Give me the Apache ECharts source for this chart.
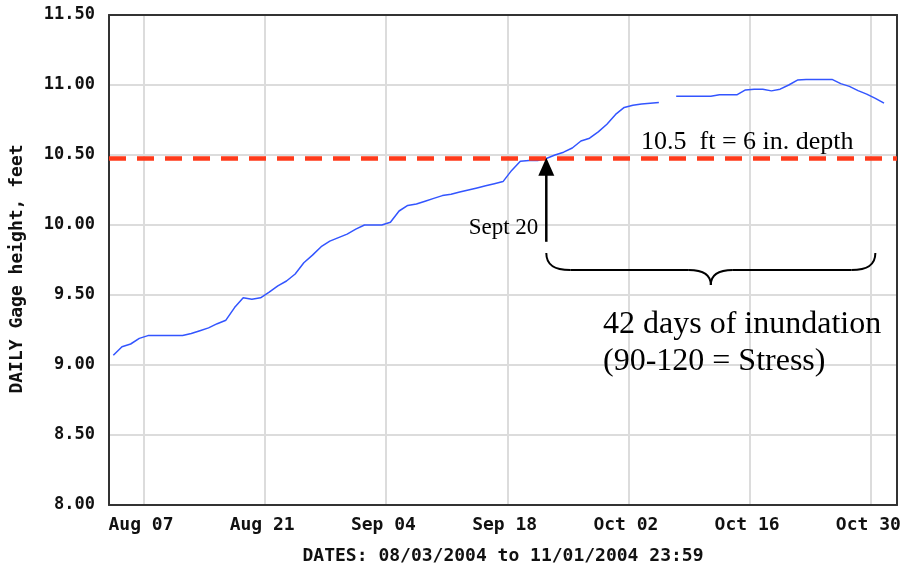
<!DOCTYPE html>
<html>
<head>
<meta charset="utf-8">
<script src="https://cdn.jsdelivr.net/npm/echarts@6/dist/echarts.min.js"></script>
</head>
<body style="margin:0; background:#fff">
<div id="container" style="width:906px; height:570px"></div>
<script type="text/javascript">
    // daily gage height, feet (Aug 03 .. Oct 31 2004), null = missing
    var augHeights = [9.07, 9.13, 9.15, 9.19, 9.21, 9.21, 9.21, 9.21, 9.21, 9.225,
        9.245, 9.265, 9.295, 9.32, 9.41, 9.48, 9.47, 9.48, 9.52, 9.565,
        9.60, 9.65, 9.73, 9.785, 9.845, 9.885, 9.91, 9.935, 9.97];
    var sepHeights = [10.00, 10.00, 10.00, 10.02, 10.10, 10.14, 10.15, 10.17, 10.19, 10.21,
        10.22, 10.235, 10.25, 10.265, 10.28, 10.295, 10.31, 10.39, 10.455, 10.46,
        10.46, 10.475, 10.50, 10.52, 10.55, 10.60, 10.62, 10.665, 10.72, 10.79];
    var octHeights = [10.84, 10.855, 10.865, 10.87, 10.875, null, 10.92, 10.92, 10.92, 10.92,
        10.92, 10.93, 10.93, 10.93, 10.965, 10.97, 10.97, 10.958, 10.97, 11.00,
        11.035, 11.04, 11.04, 11.04, 11.04, 11.01, 10.99, 10.96, 10.935, 10.905, 10.87];
    var heights = augHeights.concat(sepHeights, octHeights);

    var depthLine = 10.48;      // 10.5 ft = 6 in. depth
    var yTicks = [8, 8.5, 9, 9.5, 10, 10.5, 11, 11.5];
    var monthNames = ['Jan', 'Feb', 'Mar', 'Apr', 'May', 'Jun', 'Jul', 'Aug', 'Sep', 'Oct', 'Nov', 'Dec'];

    // one category per day, 08/03/2004 .. 11/01/2004
    var dates = [];
    for (var i = 0; i < 91; i++) {
        var d = new Date(2004, 7, 3 + i);
        dates.push(monthNames[d.getMonth()] + ' ' + (d.getDate() < 10 ? '0' : '') + d.getDate());
    }
    var firstLabel = 4;   // Aug 07
    var labelStep = 14;
    var tickStep = 7;

    // annotation anchors (category index, value)
    var arrowDay = 50;
    var arrowBase = 9.88;
    var braceStart = 50, braceEnd = 88, braceTop = 9.80;

    var monoFont = 'DejaVu Sans Mono';
    var serif = 'Liberation Serif';
    var frame = {show: true, lineStyle: {color: '#333', width: 2}};

    function isLabel(index) { return index >= firstLabel && (index - firstLabel) % labelStep === 0; }
    function isTick(index) { return index >= firstLabel && (index - firstLabel) % tickStep === 0; }

    var myChart = echarts.init(document.getElementById('container'));
    var option = {
        animation: false,
        backgroundColor: '#fff',
        grid: {left: 109, right: 9, top: 15, bottom: 63},
        xAxis: [{
            type: 'category',
            data: dates,
            boundaryGap: true,
            name: 'DATES: 08/03/2004 to 11/01/2004 23:59',
            nameLocation: 'middle',
            nameGap: 42,
            nameTextStyle: {fontFamily: monoFont, fontWeight: 'bold', fontSize: 18, color: '#111'},
            axisLine: frame,
            axisTick: {interval: function (i) { return isTick(i); }, inside: true, length: 4, lineStyle: {color: '#333', width: 2}},
            axisLabel: {
                interval: function (i) { return isLabel(i); },
                margin: 11,
                padding: [0, 14, 0, 0],
                fontFamily: monoFont, fontWeight: 'bold', fontSize: 18, color: '#111'
            },
            splitLine: {show: true, interval: function (i) { return isLabel(i); }, lineStyle: {color: '#dcdcdc', width: 2}}
        }, {
            type: 'category',
            data: dates,
            position: 'top',
            boundaryGap: true,
            axisLine: frame,
            axisTick: {interval: function (i) { return isTick(i); }, inside: true, length: 4, lineStyle: {color: '#333', width: 2}},
            axisLabel: {show: false},
            splitLine: {show: false}
        }],
        yAxis: [{
            type: 'value',
            min: yTicks[0],
            max: yTicks[yTicks.length - 1],
            interval: 0.5,
            name: 'DAILY Gage height, feet',
            nameLocation: 'middle',
            nameGap: 83,
            nameTextStyle: {fontFamily: monoFont, fontWeight: 'bold', fontSize: 18, color: '#111', padding: [0, 18, 0, 0]},
            axisLine: frame,
            axisTick: {show: false},
            axisLabel: {
                margin: 14,
                formatter: function (v) { return v.toFixed(2); },
                fontFamily: monoFont, fontWeight: 'bold', fontSize: 17, color: '#111'
            },
            splitLine: {lineStyle: {color: '#dcdcdc', width: 2}}
        }, {
            type: 'value',
            position: 'right',
            min: yTicks[0],
            max: yTicks[yTicks.length - 1],
            interval: 0.5,
            axisLine: frame,
            axisTick: {show: false},
            axisLabel: {show: false},
            splitLine: {show: false}
        }],
        series: [{
            name: 'Gage height',
            type: 'line',
            data: heights,
            showSymbol: false,
            connectNulls: false,
            lineStyle: {color: '#3355ff', width: 1.5},
            markLine: {
                silent: true,
                symbol: 'none',
                label: {show: false},
                lineStyle: {color: '#ff3a1a', width: 4.5, type: [17, 11]},
                data: [{yAxis: depthLine}]
            }
        }]
    };
    myChart.setOption(option);

    // annotations placed from data coordinates
    var tip = myChart.convertToPixel({gridIndex: 0}, [arrowDay, depthLine]);
    var base = myChart.convertToPixel({gridIndex: 0}, [arrowDay, arrowBase]);
    var b0 = myChart.convertToPixel({gridIndex: 0}, [braceStart, braceTop]);
    var b1 = myChart.convertToPixel({gridIndex: 0}, [braceEnd, braceTop]);
    var ax = tip[0];
    var x0 = b0[0], x1 = b1[0], y0 = b0[1], xm = (x0 + x1) / 2;
    var y1 = y0 + 17, y2 = y0 + 32;
    var braceStyle = {fill: 'none', stroke: '#000', lineWidth: 2};

    function curve(ax1, ay1, c1x, c1y, c2x, c2y, ax2, ay2) {
        return {type: 'bezierCurve', z: 100, style: braceStyle,
            shape: {x1: ax1, y1: ay1, cpx1: c1x, cpy1: c1y, cpx2: c2x, cpy2: c2y, x2: ax2, y2: ay2}};
    }
    function seg(ax1, ay1, ax2, ay2) {
        return {type: 'line', z: 100, style: braceStyle, shape: {x1: ax1, y1: ay1, x2: ax2, y2: ay2}};
    }

    myChart.setOption({
        graphic: [
            {type: 'line', shape: {x1: ax, y1: base[1], x2: ax, y2: tip[1] + 14}, style: {stroke: '#000', lineWidth: 2.5}, z: 100},
            {type: 'polygon', shape: {points: [[ax, tip[1]], [ax - 8, tip[1] + 18], [ax + 8, tip[1] + 18]]}, style: {fill: '#000'}, z: 100},
            curve(x0, y0, x0, y0 + 12, x0 + 8, y1, x0 + 24, y1),
            seg(x0 + 24, y1, xm - 22, y1),
            curve(xm - 22, y1, xm - 8, y1, xm, y1 + 5, xm, y2),
            curve(xm, y2, xm, y1 + 5, xm + 8, y1, xm + 22, y1),
            seg(xm + 22, y1, x1 - 24, y1),
            curve(x1 - 24, y1, x1 - 8, y1, x1, y0 + 12, x1, y0),
            {type: 'text', style: {text: 'Sept 20', x: ax - 8, y: base[1] - 14, align: 'right', verticalAlign: 'middle', font: '23px "' + serif + '"', fill: '#000'}, z: 100},
            {type: 'text', style: {text: '10.5  ft = 6 in. depth', x: 641, y: 142, align: 'left', verticalAlign: 'middle', font: '26px "' + serif + '"', fill: '#000'}, z: 100},
            {type: 'text', style: {text: '42 days of inundation', x: 603, y: 325, align: 'left', verticalAlign: 'middle', font: '32px "' + serif + '"', fill: '#000'}, z: 100},
            {type: 'text', style: {text: '(90-120 = Stress)', x: 603, y: 362, align: 'left', verticalAlign: 'middle', font: '32px "' + serif + '"', fill: '#000'}, z: 100}
        ]
    });
</script>
</body>
</html>
